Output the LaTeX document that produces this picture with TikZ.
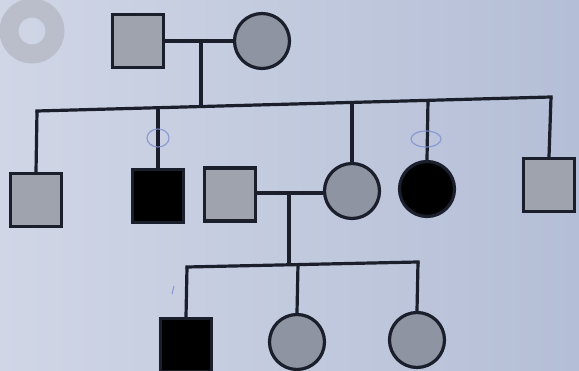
\documentclass[tikz,border=0pt]{standalone}
\usetikzlibrary{shadings}
\begin{document}
\begin{tikzpicture}[x=1pt,y=-1pt,
  ln/.style={line width=3.2pt,draw=lineC},
  male/.style={rectangle,minimum width=51pt,minimum height=53pt,inner sep=0pt,line width=3.2pt,draw=lineC,fill=grayF},
  female/.style={circle,minimum size=55pt,inner sep=0pt,line width=3.2pt,draw=lineC,fill=grayC},
  affm/.style={male,fill=black},
  afff/.style={female,fill=black},
  pen/.style={draw=penC,line width=1.2pt,opacity=0.8}]
\definecolor{lineC}{HTML}{1B1F2C}
\definecolor{grayF}{HTML}{9EA3AE}
\definecolor{grayC}{HTML}{8E94A1}
\definecolor{bgA}{HTML}{D0D6E6}
\definecolor{bgB}{HTML}{B4BED6}
\definecolor{penC}{HTML}{7E8FD0}
\definecolor{ringC}{HTML}{B5B9C4}
\useasboundingbox (0,0) rectangle (579,371);
\clip (0,0) rectangle (579,371);
\shade[left color=bgA,right color=bgB] (0,0) rectangle (579,371);
% camera ring artifact
\draw[ringC,line width=19pt,opacity=0.8] (32,31) circle (23pt);
% generation I
\node[male] (g1m) at (138,41) {};
\node[female] (g1f) at (262,41) {};
\coordinate (mar1) at (201,41);
\draw[ln] (g1m.east) -- (g1f.west);
% sibship line II
\coordinate (s1) at (37,111);
\coordinate (s2) at (158,107);
\coordinate (sp) at (201,106);
\coordinate (s4) at (352,102);
\coordinate (s5) at (428,100);
\coordinate (s6) at (551,97);
\draw[ln] (mar1) -- (sp);
\draw[ln,line cap=rect] (s1) -- (s6);
% generation II
\node[male] (c1) at (36,200) {};
\node[affm] (c2) at (158,196) {};
\node[male] (c3) at (230,194.5) {};
\node[female] (c4) at (352,191) {};
\node[afff] (c5) at (427,189) {};
\node[male] (c6) at (549,185) {};
\draw[ln] (s1) -- (c1.north);
\draw[ln] (s2) -- (c2.north);
\draw[ln] (s4) -- (c4.north);
\draw[ln] (s5) -- (c5.north);
\draw[ln] (s6) -- (c6.north);
% marriage II
\draw[ln] (c3.east |- 0,193) coordinate (m2a) -- (c4.west |- 0,193) coordinate (m2b);
\coordinate (mar2) at (289,193);
\coordinate (t0) at (289,265);
\coordinate (t1) at (187,267);
\coordinate (t2) at (298,264);
\coordinate (t3) at (418,262);
\draw[ln] (mar2) -- (t0);
\draw[ln,line cap=rect] (t1) -- (t3);
% generation III
\node[affm] (d1) at (186,345) {};
\node[female] (d2) at (297,342) {};
\node[female] (d3) at (417,340) {};
\draw[ln] (t1) -- (d1.north);
\draw[ln] (t2) -- (d2.north);
\draw[ln] (t3) -- (d3.north);
% pen marks
\draw[pen] (158,138) ellipse (11pt and 9pt);
\draw[pen] (426,139) ellipse (15pt and 8pt);
\draw[pen] (174,286) -- (172,294);
\end{tikzpicture}
\end{document}
